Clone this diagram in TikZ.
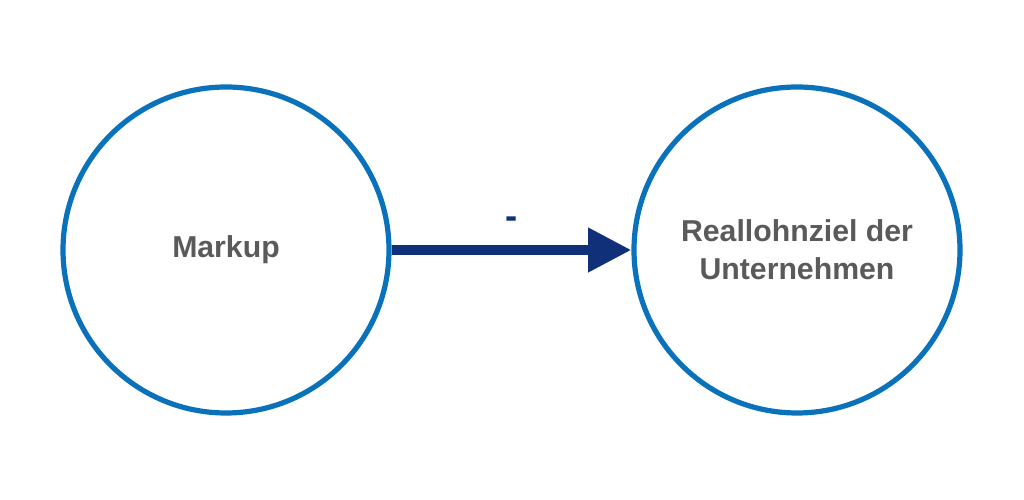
\documentclass[tikz,border=0pt]{standalone}
\usepackage{fontspec}
\setmainfont{Liberation Sans}
\usetikzlibrary{arrows.meta}

\definecolor{ringblue}{HTML}{0A72BA}
\definecolor{arrownavy}{HTML}{10307A}
\definecolor{textgray}{HTML}{5A5A5A}

\tikzstyle{factor}=[circle,
    line width=0.13cm,
    draw=ringblue,
    minimum size=8.15cm,
    text=textgray,
    align=center,
    font=\fontsize{21.5}{27}\selectfont\bfseries]
\tikzstyle{effect}=[line width=0.25cm,
    draw=arrownavy,
    -{Triangle[length=1.08cm,width=1.05cm]}]

\begin{document}
\begin{tikzpicture}
                \useasboundingbox (0,0) rectangle (25.6,12.5);
                \node (markup) [factor] at (5.65,6.25) {Markup};
                \node (ziel) [factor] at (19.925,6.25) {Reallohnziel der\\Unternehmen};
                \draw [effect] (markup) -- node[above=0.3cm, text=arrownavy,
                    font=\fontsize{26}{30}\selectfont\bfseries] {-} (ziel);
            \end{tikzpicture}
\end{document}
